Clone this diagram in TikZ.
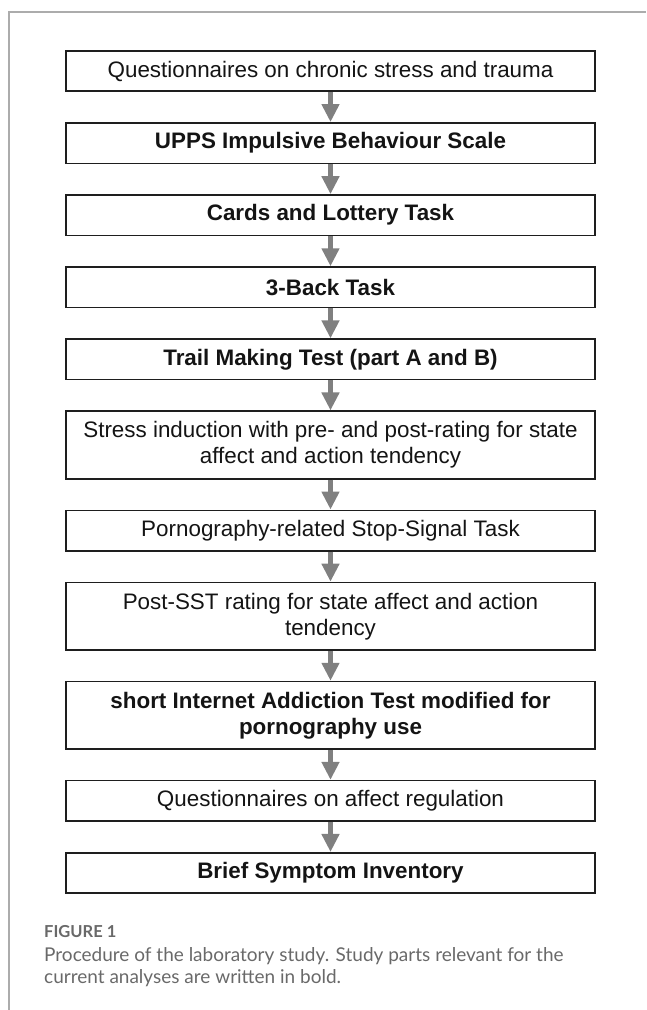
\documentclass[tikz,border=0pt]{standalone}
\usepackage{fontspec}
\setmainfont{Liberation Sans}
\newfontfamily\capfont{Lato}
\usetikzlibrary{positioning,arrows.meta}
\definecolor{framegray}{RGB}{172,172,172}
\definecolor{arrowgray}{RGB}{128,128,128}
\definecolor{boxline}{RGB}{30,30,30}
\definecolor{capgray}{RGB}{105,105,105}

\begin{document}
\begin{tikzpicture}[x=1pt,y=1pt,>=Latex]
  \tikzset{
    stage/.style={draw=boxline,line width=1.6pt,minimum width=529pt,minimum height=40.5pt,
      inner sep=0pt,align=center,font=\fontsize{22.4}{26}\selectfont,text=black!92},
    stagetwo/.style={stage,minimum height=67.5pt},
    key/.style={stage,font=\fontsize{22.4}{26}\selectfont\bfseries},
    keytwo/.style={key,minimum height=67.5pt},
    flow/.style={draw=arrowgray,line width=5pt,-{Triangle[width=17pt,length=18pt]}},
  }
  \useasboundingbox (0,0) rectangle (646,-1010);
  \draw[framegray,line width=1.2pt] (9,-1010) |- (646,-12);

  \node[stage] (s1) at (330.5,-71) {Questionnaires on chronic stress and trauma};
  \node[key,below=30pt of s1] (s2) {UPPS Impulsive Behaviour Scale};
  \node[key,below=30pt of s2] (s3) {Cards and Lottery Task};
  \node[key,below=30pt of s3] (s4) {3-Back Task};
  \node[key,below=30pt of s4] (s5) {Trail Making Test (part A and B)};
  \node[stagetwo,below=30pt of s5] (s6) {Stress induction with pre- and post-rating for state\\affect and action tendency};
  \node[stage,below=30pt of s6] (s7) {Pornography-related Stop-Signal Task};
  \node[stagetwo,below=30pt of s7] (s8) {Post-SST rating for state affect and action\\tendency};
  \node[keytwo,below=30pt of s8] (s9) {short Internet Addiction Test modified for\\pornography use};
  \node[stage,below=30pt of s9] (s10) {Questionnaires on affect regulation};
  \node[key,below=30pt of s10] (s11) {Brief Symptom Inventory};

  \foreach \a/\b in {s1/s2,s2/s3,s3/s4,s4/s5,s5/s6,s6/s7,s7/s8,s8/s9,s9/s10,s10/s11}
    \draw[flow] (\a.south) -- (\b.north);

  % caption under the chart
  \node[anchor=west,inner sep=0pt,text=capgray,font=\capfont\fontsize{16.5}{18}\selectfont\bfseries] (fig) at (44,-932) {FIGURE 1};
  \node[anchor=north west,align=left,inner sep=0pt,text=capgray,font=\capfont\fontsize{19}{21.7}\selectfont] (cap) at (44,-947.5)
    {Procedure of the laboratory study. Study parts relevant for the\\current analyses are written in bold.};
\end{tikzpicture}
\end{document}
